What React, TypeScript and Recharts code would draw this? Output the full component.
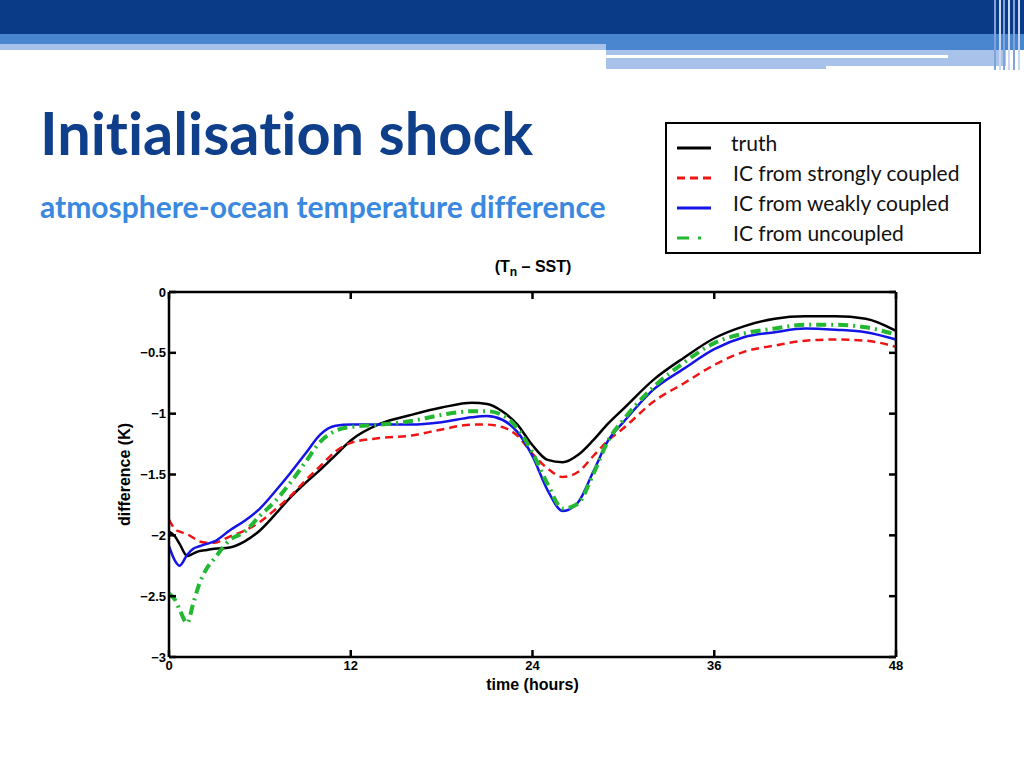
import React from 'react';
import { LineChart, Line, XAxis, YAxis } from 'recharts';

// time axis (hours) and the four runs
const hours = [0, 0.4, 0.7, 1.2, 1.6, 2, 2.5, 3, 4, 5, 6, 7, 8, 9, 10, 11, 12, 14, 16, 18, 20, 21, 22, 23, 24, 25, 26, 27, 28, 29, 30, 32, 34, 36, 38, 40, 42, 44, 46, 48];

const truth = [-1.97, -2.01, -2.07, -2.17, -2.15, -2.13, -2.12, -2.11, -2.1, -2.05, -1.96, -1.83, -1.69, -1.57, -1.46, -1.34, -1.22, -1.08, -1.01, -0.95, -0.91, -0.92, -0.98, -1.09, -1.26, -1.38, -1.4, -1.34, -1.22, -1.08, -0.96, -0.72, -0.54, -0.38, -0.28, -0.22, -0.2, -0.2, -0.22, -0.32];
const strong = [-1.87, -1.95, -1.97, -1.99, -2.02, -2.05, -2.06, -2.06, -2.01, -1.96, -1.89, -1.79, -1.68, -1.55, -1.43, -1.31, -1.24, -1.2, -1.18, -1.13, -1.09, -1.09, -1.11, -1.18, -1.33, -1.45, -1.52, -1.48, -1.35, -1.22, -1.12, -0.9, -0.75, -0.6, -0.49, -0.44, -0.4, -0.39, -0.4, -0.45];
const weak = [-2.09, -2.21, -2.25, -2.16, -2.11, -2.09, -2.07, -2.05, -1.96, -1.88, -1.78, -1.64, -1.49, -1.33, -1.17, -1.1, -1.09, -1.09, -1.09, -1.07, -1.03, -1.02, -1.05, -1.15, -1.35, -1.63, -1.8, -1.73, -1.48, -1.22, -1.07, -0.8, -0.63, -0.47, -0.37, -0.33, -0.3, -0.31, -0.33, -0.39];
const uncoupled = [-2.48, -2.53, -2.61, -2.72, -2.56, -2.4, -2.27, -2.19, -2.04, -1.97, -1.84, -1.72, -1.57, -1.4, -1.23, -1.14, -1.11, -1.09, -1.06, -1.01, -0.98, -0.98, -1.01, -1.12, -1.32, -1.58, -1.78, -1.74, -1.5, -1.22, -1.05, -0.78, -0.58, -0.42, -0.34, -0.3, -0.27, -0.27, -0.29, -0.35];

const xTicks = [0, 12, 24, 36, 48];
const yTicks = [0, -0.5, -1, -1.5, -2, -2.5, -3];

// xId/yId: the weak + uncoupled runs hang on the top/right frame axes (same domains) so those get drawn
const series = [
  { key: 'truth', name: 'truth', color: '#000000', width: 2.5, dash: undefined, legendDash: undefined, xId: 'bottom', yId: 'left' },
  { key: 'strong', name: 'IC from strongly coupled', color: '#f01414', width: 2.5, dash: '8 5', legendDash: '8 5', xId: 'bottom', yId: 'left' },
  { key: 'weak', name: 'IC from weakly coupled', color: '#1414e6', width: 2.5, dash: undefined, legendDash: undefined, xId: 'top', yId: 'right' },
  { key: 'uncoupled', name: 'IC from uncoupled', color: '#22b832', width: 4, dash: '10 5 2 5', legendDash: '12 9 3 20', xId: 'top', yId: 'right' },
];

const data = hours.map((h, i) => ({
  h,
  truth: truth[i],
  strong: strong[i],
  weak: weak[i],
  uncoupled: uncoupled[i],
}));

const tickFont = { fontFamily: 'Liberation Sans, Arial, sans-serif', fontSize: 13, fontWeight: 700, fill: '#000' };
const fmtY = (v: number) => (v === 0 ? '0' : '\u2212' + Math.abs(v));
const frame = { stroke: '#000', strokeWidth: 2.5 };

function Header() {
  return (
    <>
      <div style={{ position: 'absolute', left: 0, top: 0, width: 1024, height: 34, background: '#0a3b87' }} />
      <div style={{ position: 'absolute', left: 0, top: 34, width: 606, height: 10, background: '#4a86d0' }} />
      <div style={{ position: 'absolute', left: 0, top: 44, width: 606, height: 6, background: '#a9c2ea' }} />
      <div style={{ position: 'absolute', left: 606, top: 34, width: 418, height: 16, background: '#4a86d0' }} />
      <div style={{ position: 'absolute', left: 606, top: 50, width: 400, height: 16, background: '#a9c2ea' }} />
      <div style={{ position: 'absolute', left: 606, top: 66, width: 220, height: 3, background: '#a9c2ea' }} />
      <div style={{ position: 'absolute', left: 606, top: 55, width: 342, height: 3, background: '#ffffff' }} />
      {[994, 999, 1003, 1008, 1013, 1018].map((x, i) => (
        <div key={x} style={{ position: 'absolute', left: x, top: 0, width: 2, height: 70, background: i % 2 ? '#c9d8f0' : '#7fa3da' }} />
      ))}
    </>
  );
}

function LegendBox() {
  return (
    <div style={{ position: 'absolute', left: 665, top: 122, width: 312, height: 128, border: '2px solid #000', background: '#fff' }}>
      {series.map((s, i) => (
        <div key={s.key} style={{ position: 'absolute', left: 0, top: 8 + i * 30, height: 30, width: 312 }}>
          <svg width={50} height={30} style={{ position: 'absolute', left: 8, top: 0 }}>
            <line x1={2} x2={36} y1={16} y2={16} stroke={s.color} strokeWidth={3} strokeDasharray={s.legendDash} />
          </svg>
          <span style={{ position: 'absolute', left: i === 0 ? 64 : 66, top: -2, fontFamily: 'Lato, "Open Sans", sans-serif', fontSize: 21, color: '#111', whiteSpace: 'nowrap' }}>
            {s.name}
          </span>
        </div>
      ))}
    </div>
  );
}

export default function App() {
  return (
    <div style={{ position: 'absolute', left: 0, top: 0, width: 1024, height: 768, background: '#fff', overflow: 'hidden' }}>
      <Header />
      <div style={{ position: 'absolute', left: 40, top: 96, fontFamily: 'Lato, sans-serif', fontWeight: 700, fontSize: 59.5, color: '#0f3f8a', whiteSpace: 'nowrap', fontVariantLigatures: 'none' }}>
        Initialisation shock
      </div>
      <div style={{ position: 'absolute', left: 40, top: 188, fontFamily: 'Lato, sans-serif', fontWeight: 700, fontSize: 30, color: '#3a88e0', whiteSpace: 'nowrap', fontVariantLigatures: 'none' }}>
        atmosphere-ocean temperature difference
      </div>
      <LegendBox />
      <div style={{ position: 'absolute', left: 433, top: 258, width: 200, textAlign: 'center', fontFamily: 'Liberation Sans, Arial, sans-serif', fontWeight: 700, fontSize: 16, color: '#000' }}>
        (T<sub style={{ fontSize: 12 }}>n</sub> &ndash; SST)
      </div>
      <div style={{ position: 'absolute', left: 0, top: 0 }}>
        <LineChart width={1024} height={768} data={data} margin={{ top: 292, right: 128, bottom: 71, left: 109 }}>
          <XAxis
            xAxisId="bottom"
            dataKey="h"
            type="number"
            domain={[0, 48]}
            ticks={xTicks}
            height={40}
            tickSize={-7}
            tickMargin={11}
            tick={tickFont}
            axisLine={frame}
            tickLine={frame}
            label={{ value: 'time (hours)', position: 'insideBottom', offset: 7, style: { ...tickFont, fontSize: 16 } }}
          />
          <XAxis
            xAxisId="top"
            orientation="top"
            dataKey="h"
            type="number"
            domain={[0, 48]}
            ticks={xTicks}
            mirror
            tickSize={7}
            tickFormatter={() => ''}
            axisLine={frame}
            tickLine={frame}
          />
          <YAxis
            yAxisId="left"
            type="number"
            domain={[-3, 0]}
            ticks={yTicks}
            width={60}
            tickSize={-7}
            tickMargin={10}
            tick={tickFont}
            tickFormatter={fmtY}
            axisLine={frame}
            tickLine={frame}
            label={{ value: 'difference (K)', angle: -90, position: 'insideLeft', offset: 15, style: { ...tickFont, fontSize: 16, textAnchor: 'middle' } }}
          />
          <YAxis
            yAxisId="right"
            orientation="right"
            type="number"
            domain={[-3, 0]}
            ticks={yTicks}
            mirror
            tickSize={7}
            tickFormatter={() => ''}
            axisLine={frame}
            tickLine={frame}
          />
          {series.map((s) => (
            <Line
              key={s.key}
              xAxisId={s.xId}
              yAxisId={s.yId}
              type="monotone"
              dataKey={s.key}
              name={s.name}
              stroke={s.color}
              strokeWidth={s.width}
              strokeDasharray={s.dash}
              dot={false}
              isAnimationActive={false}
            />
          ))}
        </LineChart>
      </div>
    </div>
  );
}
